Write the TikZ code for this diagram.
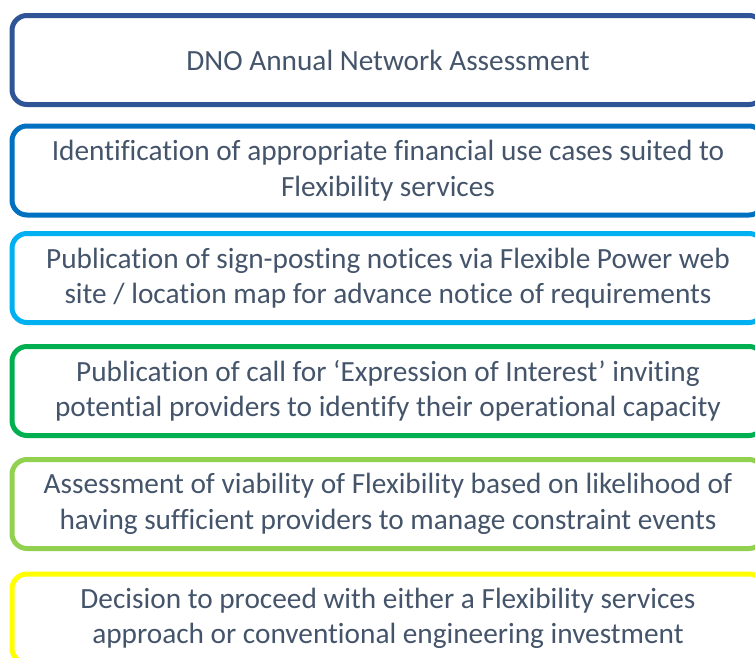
\documentclass[tikz,border=0pt]{standalone}
\usepackage{fontspec}
\setmainfont[Ligatures=NoCommon]{Carlito}
\definecolor{slate}{HTML}{44546A}
\definecolor{navy}{HTML}{2F5597}
\definecolor{midblue}{HTML}{0070C0}
\definecolor{skyblue}{HTML}{00B0F0}
\definecolor{grassgreen}{HTML}{00B050}
\definecolor{limegreen}{HTML}{92D050}
\definecolor{brightyellow}{HTML}{FFFF00}
\tikzset{
    stage/.style={
        draw=#1, line width=5pt, rounded corners=15pt,
        minimum width=752pt, minimum height=89pt, inner sep=0pt,
        align=center, text=slate, font=\fontsize{29.3}{35.5}\selectfont
    },
}

\begin{document}
\begin{tikzpicture}[x=1pt,y=-1pt]
\clip (0,0) rectangle (755,657);
\node[stage=navy] (network) at (388,60) {DNO Annual Network Assessment};
\node[stage=midblue] (usecases) at (388,170.5) {Identification of appropriate financial use cases suited to\\Flexibility services};
\node[stage=skyblue] (signpost) at (388,278) {Publication of sign-posting notices via Flexible Power web\\site / location map for advance notice of requirements};
\node[stage=grassgreen] (interest) at (388,391) {Publication of call for ‘Expression of Interest’ inviting\\potential providers to identify their operational capacity};
\node[stage=limegreen] (viability) at (388,504) {Assessment of viability of Flexibility based on likelihood of\\having sufficient providers to manage constraint events};
\node[stage=brightyellow] (decision) at (388,618.5) {Decision to proceed with either a Flexibility services\\approach or conventional engineering investment};
%\draw[->] (network) -- (usecases);
\end{tikzpicture}
\end{document}
